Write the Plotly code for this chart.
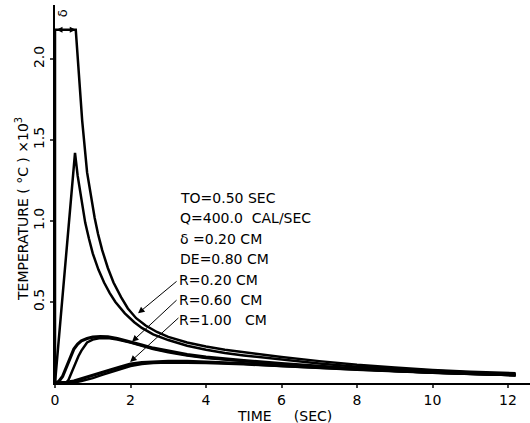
import plotly.graph_objects as go

# ---- data (time in s, temperature in °C x10^3) ----
t_a = [0, 0, 0.55, 0.62, 0.72, 0.85, 0.95, 1.05, 1.14, 1.25, 1.4, 1.55, 1.75, 1.93, 2.15, 2.4, 2.7, 3.0, 3.5,
       4.0, 4.5, 5.0, 5.5, 6.0, 7.0, 8.0, 9.0, 10.0, 11.0, 12.2]
T_a = [0, 2.18, 2.18, 1.95, 1.62, 1.3, 1.15, 1.02, 0.92, 0.82, 0.71, 0.62, 0.53, 0.46, 0.4, 0.355, 0.315, 0.285,
       0.25, 0.225, 0.205, 0.19, 0.175, 0.16, 0.135, 0.112, 0.095, 0.08, 0.07, 0.06]

t_b = [0, 0.53, 0.6, 0.7, 0.8, 0.9, 1.0, 1.15, 1.3, 1.45, 1.6, 1.85, 2.1, 2.3, 2.6, 3.0, 3.5, 4.0, 4.5, 5.0,
       6.0, 7.0, 8.0, 9.0, 10.0, 11.0, 12.2]
T_b = [0, 1.42, 1.28, 1.12, 0.99, 0.89, 0.8, 0.7, 0.62, 0.555, 0.5, 0.43, 0.375, 0.34, 0.3, 0.265, 0.23, 0.205,
       0.185, 0.17, 0.145, 0.12, 0.1, 0.087, 0.075, 0.065, 0.055]

t_c = [0, 0.1, 0.2, 0.3, 0.4, 0.5, 0.6, 0.7, 0.85, 1.0, 1.2, 1.4, 1.65, 2.0, 2.3, 2.6, 3.0, 3.5, 4.0, 4.5, 5.0,
       6.0, 7.0, 8.0, 9.0, 10.0, 11.0, 12.2]
T_c = [0, 0.01, 0.04, 0.1, 0.16, 0.21, 0.24, 0.26, 0.275, 0.283, 0.287, 0.285, 0.275, 0.255, 0.235, 0.215, 0.195,
       0.175, 0.16, 0.148, 0.138, 0.12, 0.103, 0.088, 0.076, 0.065, 0.057, 0.05]

t_d = [0, 0.3, 0.36, 0.45, 0.53, 0.62, 0.7, 0.78, 0.85, 1.0, 1.2, 1.4, 1.65, 2.0, 2.3, 2.6, 3.0, 3.5, 4.0, 5.0,
       6.0, 8.0, 10.0, 12.2]
T_d = [0, 0.0, 0.02, 0.07, 0.12, 0.165, 0.2, 0.23, 0.25, 0.268, 0.277, 0.277, 0.268, 0.25, 0.23, 0.21, 0.19,
       0.17, 0.155, 0.134, 0.116, 0.086, 0.063, 0.048]

t_e = [0, 0.3, 0.5, 0.74, 1.0, 1.25, 1.46, 1.75, 2.0, 2.3, 2.6, 3.0, 3.5, 4.0, 5.0, 6.0, 7.0, 8.0, 10.0, 12.2]
T_e = [0, 0.004, 0.012, 0.03, 0.05, 0.066, 0.08, 0.1, 0.117, 0.127, 0.132, 0.135, 0.134, 0.13, 0.12, 0.107,
       0.095, 0.085, 0.066, 0.05]

t_f = [0, 0.45, 0.7, 1.0, 1.25, 1.5, 1.75, 2.0, 2.3, 2.6, 3.0, 3.5, 4.0, 5.0, 6.0, 8.0, 10.0, 12.2]
T_f = [0, 0.0, 0.012, 0.03, 0.05, 0.068, 0.088, 0.105, 0.117, 0.123, 0.126, 0.126, 0.124, 0.115, 0.103, 0.082,
       0.063, 0.048]

x_ticks = [0, 2, 4, 6, 8, 10, 12]
y_ticks = [0.5, 1.0, 1.5, 2.0]
y_tick_text = ["0.5", "1.0", "1.5", "2.0"]

params = ["TO=0.50 SEC", "Q=400.0  CAL/SEC", "δ =0.20 CM", "DE=0.80 CM"]
r_labels = ["R=0.20 CM", "R=0.60  CM", "R=1.00   CM"]
r_tips = [(2.2, 0.43), (2.04, 0.255), (1.99, 0.13)]
r_tails = [(3.26, 0.635), (3.26, 0.52), (3.31, 0.41)]

FONT = "DejaVu Sans"
fig = go.Figure()
series = [(t_a, T_a, 2.5), (t_b, T_b, 2.5), (t_c, T_c, 3.2), (t_d, T_d, 2.5), (t_e, T_e, 3), (t_f, T_f, 2.5)]
for xs, ys, w in series:
    fig.add_trace(go.Scatter(x=xs, y=ys, mode="lines", line=dict(color="black", width=w),
                             showlegend=False, hoverinfo="skip"))

# parameter text
text_y_px = [198, 218, 239, 259]
for s, ypx in zip(params, text_y_px):
    fig.add_annotation(xref="paper", yref="paper", x=(178 - 55) / 475, y=(383 - ypx) / 378,
                       text=s, showarrow=False, xanchor="left", yanchor="middle",
                       font=dict(family=FONT, size=14, color="black"))
r_y_px = [280, 300, 320]
for s, ypx, tip, tail in zip(r_labels, r_y_px, r_tips, r_tails):
    fig.add_annotation(xref="paper", yref="paper", x=(177 - 55) / 475, y=(383 - ypx) / 378,
                       text=s, showarrow=False, xanchor="left", yanchor="middle",
                       font=dict(family=FONT, size=14, color="black"))
    fig.add_annotation(x=tip[0], y=tip[1], ax=tail[0], ay=tail[1], axref="x", ayref="y",
                       text="", showarrow=True, arrowhead=2, arrowsize=1.3, arrowwidth=1, arrowcolor="black")

# delta marker
fig.add_annotation(x=0.55, y=2.18, ax=0, ay=2.18, axref="x", ayref="y", text="", showarrow=True,
                   arrowhead=2, arrowside="end+start", arrowsize=1.2, arrowwidth=1, arrowcolor="black")
fig.add_annotation(x=0.2, y=2.28, text="δ", showarrow=False, textangle=-90,
                   font=dict(family=FONT, size=13, color="black"))

# axis titles
fig.add_annotation(xref="paper", yref="paper", x=(22 - 55) / 475, y=(383 - 209) / 378,
                   xanchor="center", yanchor="middle",
                   text="TEMPERATURE ( °C ) ×10<sup>3</sup>", showarrow=False, textangle=-90,
                   font=dict(family=FONT, size=14, color="black"))
fig.add_annotation(xref="paper", yref="paper", x=(284 - 55) / 475, y=(383 - 416) / 378,
                   xanchor="center", yanchor="middle",
                   text="TIME     (SEC)", showarrow=False,
                   font=dict(family=FONT, size=14, color="black"))

fig.update_xaxes(range=[0, 475 / 37.75], tickvals=x_ticks, ticks="outside", ticklen=3, tickwidth=2,
                 showline=True, linecolor="black", linewidth=2, showgrid=False, zeroline=False,
                 tickfont=dict(family=FONT, size=14, color="black"))
fig.update_yaxes(range=[0, 378 / 162], tickvals=y_ticks, ticktext=y_tick_text, ticks="outside", ticklen=3,
                 tickwidth=2, tickangle=-90, showline=True, linecolor="black", linewidth=2, showgrid=False,
                 zeroline=False, tickfont=dict(family=FONT, size=14, color="black"))
fig.update_layout(width=530, height=423, margin=dict(l=55, r=0, t=5, b=40), plot_bgcolor="white",
                  paper_bgcolor="white", showlegend=False)
fig.write_html("out.html", config={"displayModeBar": False},
               post_script="document.body.style.margin='0';document.body.style.overflow='hidden';")
